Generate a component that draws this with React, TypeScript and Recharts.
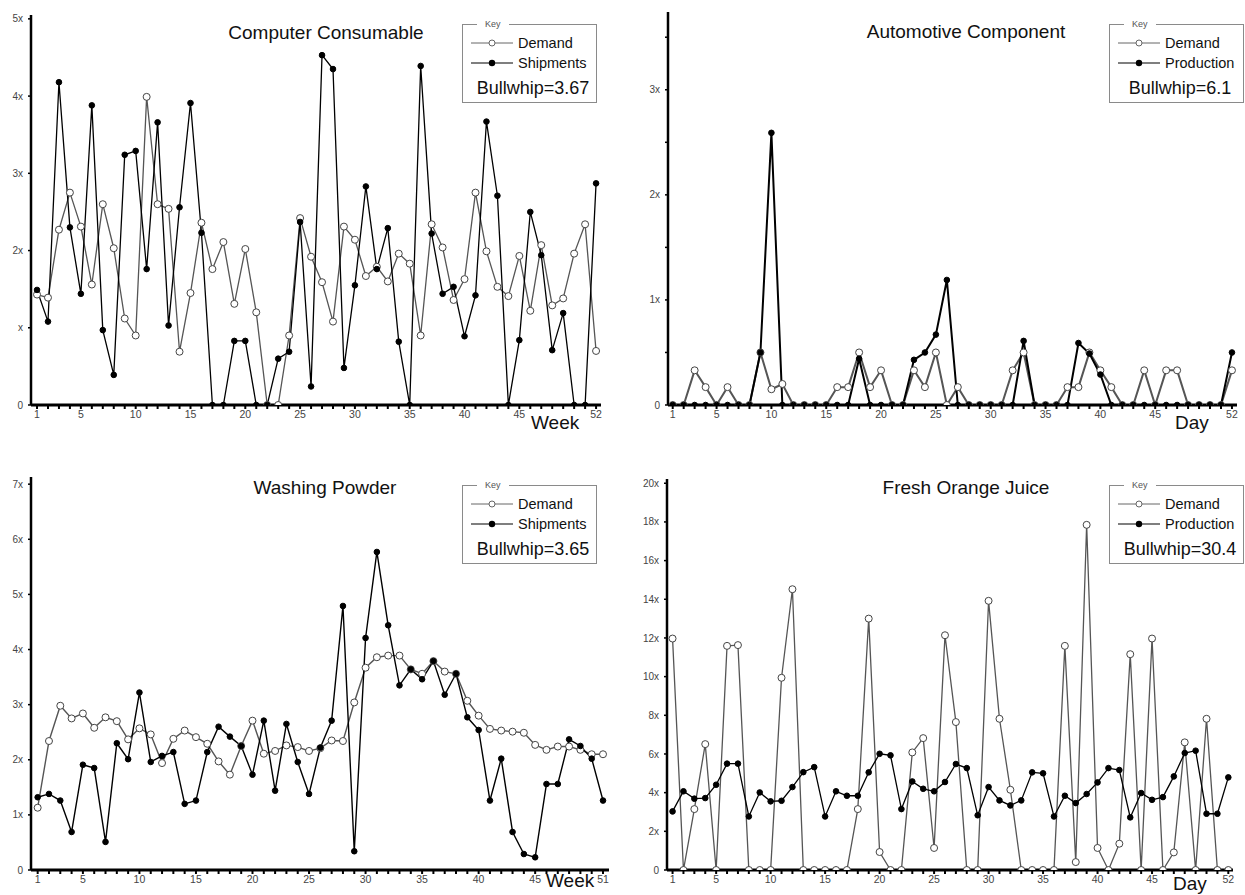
import { LineChart, Line, XAxis, YAxis } from "recharts";

// Computer Consumable (weekly)
const ccDemand = [
  1.43, 1.39, 2.27, 2.75, 2.31, 1.56, 2.6, 2.03, 1.12, 0.9,
  3.99, 2.6, 2.54, 0.69, 1.45, 2.36, 1.76, 2.11, 1.31, 2.02,
  1.2, 0, 0, 0.9, 2.42, 1.92, 1.59, 1.08, 2.31, 2.14,
  1.67, 1.79, 1.6, 1.96, 1.83, 0.9, 2.34, 2.04, 1.36, 1.63,
  2.75, 1.99, 1.53, 1.41, 1.93, 1.22, 2.07, 1.29, 1.38, 1.96,
  2.34, 0.7,
];
const ccShipments = [
  1.49, 1.08, 4.18, 2.3, 1.44, 3.88, 0.97, 0.39, 3.24, 3.29,
  1.76, 3.66, 1.03, 2.56, 3.91, 2.23, 0, 0, 0.83, 0.83,
  0, 0, 0.6, 0.69, 2.37, 0.24, 4.53, 4.35, 0.48, 1.55,
  2.83, 1.76, 2.29, 0.82, 0, 4.39, 2.22, 1.44, 1.53, 0.89,
  1.42, 3.67, 2.71, 0, 0.84, 2.5, 1.94, 0.71, 1.19, 0,
  0, 2.87,
];

// Automotive Component (daily)
const acDemand = [
  0, 0, 0.33, 0.17, 0, 0.17, 0, 0, 0.5, 0.15,
  0.2, 0, 0, 0, 0, 0.17, 0.17, 0.5, 0.17, 0.33,
  0, 0, 0.33, 0.17, 0.5, 0, 0.17, 0, 0, 0,
  0, 0.33, 0.5, 0, 0, 0, 0.17, 0.17, 0.5, 0.33,
  0.17, 0, 0, 0.33, 0, 0.33, 0.33, 0, 0, 0,
  0, 0.33,
];
const acProduction = [
  0, 0, 0, 0, 0, 0, 0, 0, 0.5, 2.59,
  0, 0, 0, 0, 0, 0, 0, 0.44, 0, 0,
  0, 0, 0.43, 0.5, 0.67, 1.19, 0, 0, 0, 0,
  0, 0, 0.61, 0, 0, 0, 0, 0.59, 0.49, 0.29,
  0, 0, 0, 0, 0, 0, 0, 0, 0, 0,
  0, 0.5,
];

// Washing Powder (weekly)
const wpDemand = [
  1.13, 2.34, 2.98, 2.75, 2.84, 2.58, 2.77, 2.7, 2.37, 2.57,
  2.46, 1.94, 2.38, 2.53, 2.41, 2.29, 1.97, 1.73, 2.25, 2.71,
  2.11, 2.16, 2.26, 2.23, 2.16, 2.21, 2.35, 2.34, 3.04, 3.67,
  3.86, 3.89, 3.89, 3.64, 3.56, 3.79, 3.6, 3.56, 3.07, 2.8,
  2.56, 2.53, 2.51, 2.49, 2.27, 2.18, 2.24, 2.24, 2.18, 2.1,
  2.1,
];
const wpShipments = [
  1.32, 1.38, 1.26, 0.69, 1.91, 1.85, 0.51, 2.3, 2.01, 3.22,
  1.96, 2.07, 2.14, 1.2, 1.26, 2.14, 2.6, 2.42, 2.25, 1.73,
  2.71, 1.44, 2.65, 1.96, 1.38, 2.22, 2.71, 4.79, 0.34, 4.21,
  5.77, 4.44, 3.35, 3.64, 3.46, 3.79, 3.18, 3.56, 2.77, 2.54,
  1.26, 2.02, 0.69, 0.29, 0.23, 1.56, 1.56, 2.37, 2.25, 2.02,
  1.26,
];

// Fresh Orange Juice (daily)
const ojDemand = [
  11.97, 0, 3.15, 6.51, 0, 11.59, 11.63, 0, 0, 0,
  9.94, 14.52, 0, 0, 0, 0, 0, 3.15, 13.0, 0.93,
  0, 0, 6.08, 6.82, 1.14, 12.14, 7.65, 0, 0, 13.92,
  7.82, 4.15, 0, 0, 0, 0, 11.59, 0.41, 17.85, 1.14,
  0, 1.36, 11.16, 0, 11.97, 0, 0.91, 6.6, 0, 7.82,
  0, 0,
];
const ojProduction = [
  3.03, 4.07, 3.69, 3.72, 4.41, 5.5, 5.5, 2.77, 4.01, 3.55,
  3.58, 4.29, 5.06, 5.32, 2.77, 4.07, 3.84, 3.84, 5.05, 6.01,
  5.93, 3.15, 4.58, 4.2, 4.07, 4.55, 5.48, 5.27, 2.83, 4.29,
  3.6, 3.34, 3.6, 5.05, 5.0, 2.77, 3.84, 3.46, 3.93, 4.53,
  5.27, 5.17, 2.72, 3.98, 3.63, 3.77, 4.84, 6.05, 6.17, 2.91,
  2.91, 4.79,
];

// tick labels
const xLabels52 = [1, 5, 10, 15, 20, 25, 30, 35, 40, 45, 52];
const xLabels51 = [1, 5, 10, 15, 20, 25, 30, 35, 40, 45, 51];
const ccYTicks = [0, 1, 2, 3, 4, 5];
const acYTicks = [0, 0.5, 1, 1.5, 2, 2.5, 3, 3.5];
const wpYTicks = [0, 1, 2, 3, 4, 5, 6, 7];
const ojYTicks = [0, 2, 4, 6, 8, 10, 12, 14, 16, 18, 20];

const fmtX = (v: number) => (v === 0 ? "0" : v === 1 ? "x" : `${v}x`);
const fmtInt = (v: number) =>
  v === 0 ? "0" : Number.isInteger(v) ? `${v}x` : "";
const fmtMult = (v: number) => (v === 0 ? "0" : `${v}x`);

interface PanelProps {
  left: number;
  top: number;
  width: number;
  height: number;
  yAxisWidth: number;
  margin: { top: number; right: number; bottom: number; left: number };
  xAxisHeight: number;
  xDomain: [number, number];
  yDomain: [number, number];
  yTicks: number[];
  yFormat: (v: number) => string;
  xLabels: number[];
  demand: number[];
  other: number[];
  otherName: string;
  strokeWidth: number;
  title: string;
  titleX: number;
  titleY: number;
  keyLeft: number;
  keyTop: number;
  bullwhip: string;
  axisName: string;
  axisNameX: number;
  axisNameY: number;
}

const KeyBox = ({
  left,
  top,
  name,
  bullwhip,
}: {
  left: number;
  top: number;
  name: string;
  bullwhip: string;
}) => (
  <div
    style={{
      position: "absolute",
      left,
      top,
      width: 135,
      height: 79,
      border: "1px solid #8a8a8a",
      boxSizing: "border-box",
    }}
  >
    <span
      style={{
        position: "absolute",
        left: 14,
        top: -7,
        fontSize: 9,
        lineHeight: "12px",
        color: "#555",
        background: "#fff",
        padding: "0 8px",
      }}
    >
      Key
    </span>
    <svg
      width={60}
      height={50}
      style={{ position: "absolute", left: 0, top: 0 }}
    >
      <line x1={8} x2={50} y1={18} y2={18} stroke="#666" strokeWidth={1} />
      <circle cx={29} cy={18} r={3} fill="#fff" stroke="#666" />
      <line x1={8} x2={50} y1={38} y2={38} stroke="#000" strokeWidth={1.2} />
      <circle cx={29} cy={38} r={3.2} fill="#000" />
    </svg>
    <div
      style={{
        position: "absolute",
        left: 55,
        top: 9,
        fontSize: 14.5,
        lineHeight: "18px",
        color: "#111",
      }}
    >
      Demand
    </div>
    <div
      style={{
        position: "absolute",
        left: 55,
        top: 29,
        fontSize: 14.5,
        lineHeight: "18px",
        color: "#111",
      }}
    >
      {name}
    </div>
    <div
      style={{
        position: "absolute",
        left: 0,
        width: 140,
        top: 52,
        fontSize: 18,
        lineHeight: "22px",
        textAlign: "center",
        color: "#111",
      }}
    >
      {bullwhip}
    </div>
  </div>
);

const Panel = (p: PanelProps) => {
  const data = p.demand.map((d, i) => ({ x: i + 1, demand: d, other: p.other[i] }));
  const allTicks = data.map((d) => d.x);
  const renderTick = (props: any) => {
    const { x, y, payload } = props;
    if (!p.xLabels.includes(payload.value)) return <g />;
    return (
      <text
        x={x}
        y={y}
        dy="0.71em"
        textAnchor="middle"
        fontSize={10.5}
        fill="#444"
      >
        {payload.value}
      </text>
    );
  };
  return (
    <div
      style={{
        position: "absolute",
        left: p.left,
        top: p.top,
        width: p.width,
        height: p.height,
      }}
    >
      <LineChart width={p.width} height={p.height} data={data} margin={p.margin}>
        <XAxis
          dataKey="x"
          type="number"
          domain={p.xDomain}
          ticks={allTicks}
          interval={0}
          allowDataOverflow
          height={p.xAxisHeight}
          axisLine={{ stroke: "#000", strokeWidth: 3 }}
          tickLine={{ stroke: "#000", strokeWidth: 2 }}
          tickSize={4}
          tickMargin={2}
          tick={renderTick}
        />
        <YAxis
          type="number"
          domain={p.yDomain}
          ticks={p.yTicks}
          interval={0}
          allowDataOverflow
          width={p.yAxisWidth}
          axisLine={{ stroke: "#000", strokeWidth: 2.5 }}
          tickLine={{ stroke: "#000", strokeWidth: 1.5 }}
          tickSize={3}
          tickMargin={5}
          tickFormatter={p.yFormat}
          tick={{ fontSize: 10, fill: "#444" }}
        />
        <Line
          dataKey="demand"
          stroke="#555"
          strokeWidth={p.strokeWidth}
          dot={{ r: 3.5, fill: "#fff", stroke: "#444", strokeWidth: 1 }}
          activeDot={false}
          isAnimationActive={false}
        />
        <Line
          dataKey="other"
          stroke="#000"
          strokeWidth={p.strokeWidth}
          dot={{ r: 2.8, fill: "#000", stroke: "#000", strokeWidth: 1 }}
          activeDot={false}
          isAnimationActive={false}
        />
      </LineChart>
      <div
        style={{
          position: "absolute",
          left: p.titleX - 200,
          width: 400,
          top: p.titleY - 11,
          fontSize: 19,
          lineHeight: "22px",
          textAlign: "center",
          color: "#111",
        }}
      >
        {p.title}
      </div>
      <KeyBox left={p.keyLeft} top={p.keyTop} name={p.otherName} bullwhip={p.bullwhip} />
      <div
        style={{
          position: "absolute",
          left: p.axisNameX,
          top: p.axisNameY,
          fontSize: 19,
          lineHeight: "20px",
          color: "#111",
        }}
      >
        {p.axisName}
      </div>
    </div>
  );
};

const App = () => (
  <div
    style={{
      position: "absolute",
      left: 0,
      top: 0,
      width: 1245,
      height: 895,
      background: "#fff",
      fontFamily: "'Liberation Sans', Arial, sans-serif",
    }}
  >
    <Panel
      left={0}
      top={0}
      width={620}
      height={440}
      yAxisWidth={31}
      margin={{ top: 15, right: 19, bottom: 10, left: 0 }}
      xAxisHeight={25}
      xDomain={[0.45, 52.45]}
      yDomain={[0, 5.05]}
      yTicks={ccYTicks}
      yFormat={fmtX}
      xLabels={xLabels52}
      demand={ccDemand}
      other={ccShipments}
      otherName="Shipments"
      strokeWidth={1.3}
      title="Computer Consumable"
      titleX={326}
      titleY={33}
      keyLeft={462}
      keyTop={24}
      bullwhip="Bullwhip=3.67"
      axisName="Week"
      axisNameX={531}
      axisNameY={413}
    />
    <Panel
      left={620}
      top={0}
      width={625}
      height={440}
      yAxisWidth={48}
      margin={{ top: 12, right: 8, bottom: 10, left: 0 }}
      xAxisHeight={25}
      xDomain={[0.57, 52.46]}
      yDomain={[0, 3.74]}
      yTicks={acYTicks}
      yFormat={fmtInt}
      xLabels={xLabels52}
      demand={acDemand}
      other={acProduction}
      otherName="Production"
      strokeWidth={2}
      title="Automotive Component"
      titleX={346}
      titleY={32}
      keyLeft={489}
      keyTop={24}
      bullwhip="Bullwhip=6.1"
      axisName="Day"
      axisNameX={555}
      axisNameY={413}
    />
    <Panel
      left={0}
      top={440}
      width={620}
      height={455}
      yAxisWidth={31}
      margin={{ top: 37, right: 11, bottom: 5, left: 0 }}
      xAxisHeight={20}
      xDomain={[0.41, 51.53]}
      yDomain={[0, 7.13]}
      yTicks={wpYTicks}
      yFormat={fmtMult}
      xLabels={xLabels51}
      demand={wpDemand}
      other={wpShipments}
      otherName="Shipments"
      strokeWidth={1.4}
      title="Washing Powder"
      titleX={325}
      titleY={48}
      keyLeft={462}
      keyTop={45}
      bullwhip="Bullwhip=3.65"
      axisName="Week"
      axisNameX={546}
      axisNameY={431}
    />
    <Panel
      left={620}
      top={440}
      width={625}
      height={455}
      yAxisWidth={47}
      margin={{ top: 39, right: 12, bottom: 5, left: 0 }}
      xAxisHeight={20}
      xDomain={[0.49, 52.43]}
      yDomain={[0, 20.22]}
      yTicks={ojYTicks}
      yFormat={fmtMult}
      xLabels={xLabels52}
      demand={ojDemand}
      other={ojProduction}
      otherName="Production"
      strokeWidth={1.3}
      title="Fresh Orange Juice"
      titleX={346}
      titleY={48}
      keyLeft={489}
      keyTop={45}
      bullwhip="Bullwhip=30.4"
      axisName="Day"
      axisNameX={553}
      axisNameY={434}
    />
  </div>
);

export default App;
